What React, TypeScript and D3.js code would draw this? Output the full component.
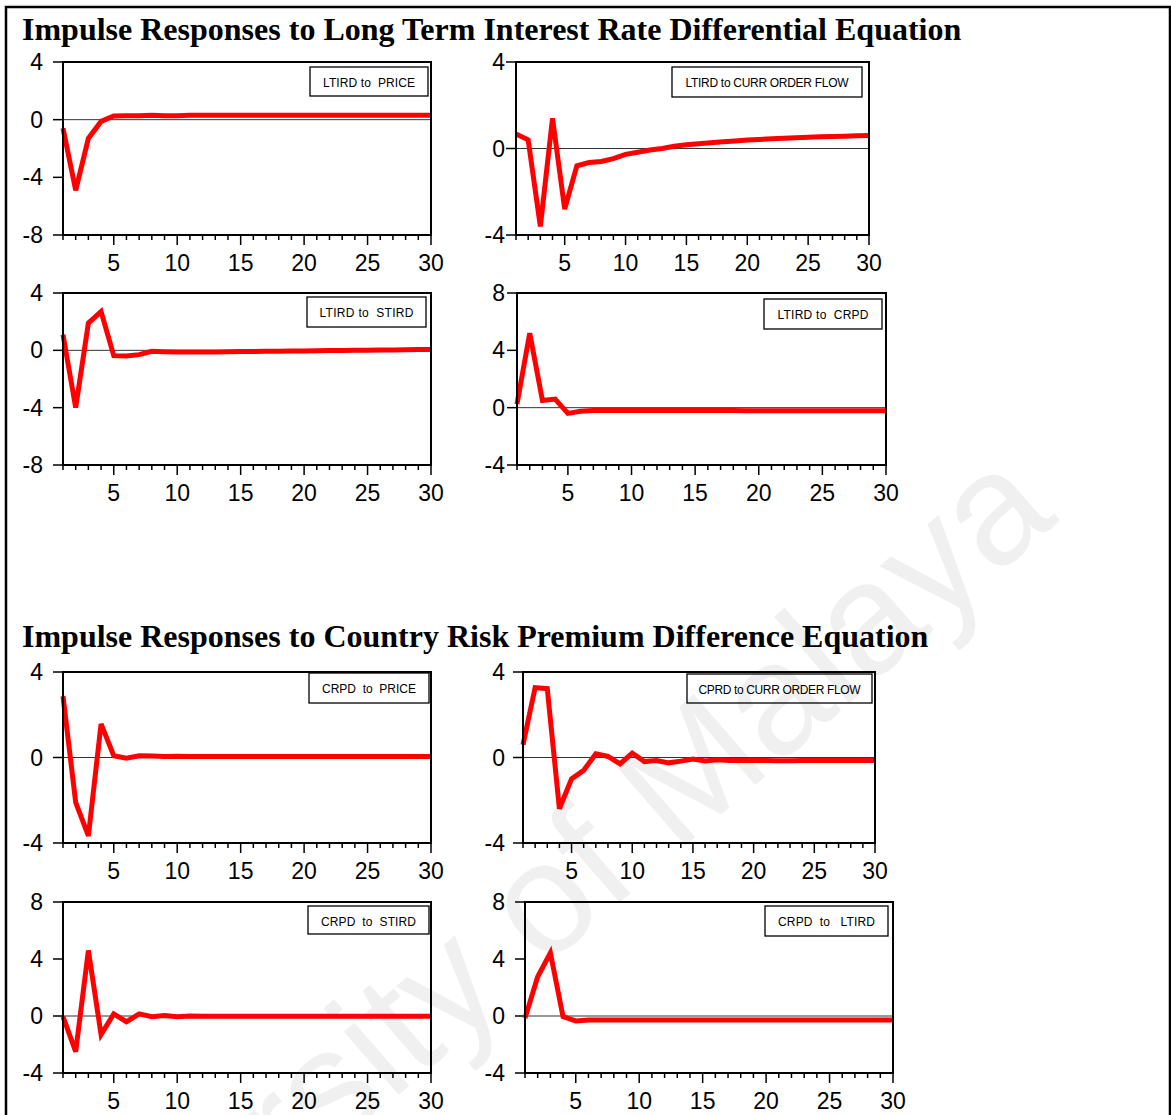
import React from "react";
import * as d3 from "d3";

// Horizon (periods after the shock)
const periods = d3.range(1, 31);
const xTickLabels = [5, 10, 15, 20, 25, 30];

const titleLong = "Impulse Responses to Long Term Interest Rate Differential Equation";
const titleCountry = "Impulse Responses to Country Risk Premium Difference Equation";

// Legend captions
const legendLabels = [
  "LTIRD to  PRICE",
  "LTIRD to CURR ORDER FLOW",
  "LTIRD to  STIRD",
  "LTIRD to  CRPD",
  "CRPD  to  PRICE",
  "CPRD to CURR ORDER FLOW",
  "CRPD  to  STIRD",
  "CRPD  to   LTIRD",
];

// Y-axis ranges for each panel
const yDomains: [number, number][] = [
  [-8, 4],
  [-4, 4],
  [-8, 4],
  [-4, 8],
  [-4, 4],
  [-4, 4],
  [-4, 8],
  [-4, 8],
];

// Impulse responses, periods 1..30
const ltirdPrice = [
  -0.6, -4.9, -1.3, -0.12, 0.25, 0.28, 0.28, 0.3, 0.28, 0.28,
  0.3, 0.3, 0.3, 0.3, 0.3, 0.3, 0.3, 0.3, 0.3, 0.3,
  0.3, 0.3, 0.3, 0.3, 0.3, 0.3, 0.3, 0.3, 0.3, 0.3,
];
const ltirdCurrOrderFlow = [
  0.67, 0.4, -3.6, 1.4, -2.8, -0.8, -0.65, -0.6, -0.47, -0.27,
  -0.17, -0.07, 0.0, 0.1, 0.17, 0.22, 0.27, 0.31, 0.35, 0.39,
  0.42, 0.45, 0.47, 0.5, 0.52, 0.54, 0.56, 0.57, 0.59, 0.6,
];
const ltirdStird = [
  1.1, -4.0, 1.9, 2.7, -0.37, -0.4, -0.3, -0.07, -0.1, -0.12,
  -0.12, -0.12, -0.11, -0.1, -0.09, -0.08, -0.07, -0.06, -0.05, -0.04,
  -0.03, -0.02, -0.01, 0.0, 0.01, 0.02, 0.03, 0.04, 0.05, 0.06,
];
const ltirdCrpd = [
  0.25, 5.2, 0.5, 0.6, -0.4, -0.25, -0.2, -0.2, -0.2, -0.2,
  -0.2, -0.2, -0.2, -0.2, -0.2, -0.2, -0.2, -0.2, -0.22, -0.22,
  -0.22, -0.22, -0.22, -0.22, -0.22, -0.22, -0.22, -0.22, -0.22, -0.22,
];
const crpdPrice = [
  2.87, -2.1, -3.67, 1.57, 0.08, -0.03, 0.08, 0.07, 0.05, 0.06,
  0.05, 0.05, 0.05, 0.05, 0.05, 0.05, 0.05, 0.05, 0.05, 0.05,
  0.05, 0.05, 0.05, 0.05, 0.05, 0.05, 0.05, 0.05, 0.05, 0.05,
];
const crpdCurrOrderFlow = [
  0.6, 3.27, 3.22, -2.4, -1.0, -0.6, 0.17, 0.05, -0.3, 0.2,
  -0.19, -0.14, -0.25, -0.17, -0.07, -0.16, -0.11, -0.14, -0.14, -0.13,
  -0.14, -0.15, -0.15, -0.14, -0.14, -0.14, -0.14, -0.14, -0.14, -0.14,
];
const crpdStird = [
  -0.05, -2.5, 4.6, -1.3, 0.15, -0.4, 0.15, -0.05, 0.03, -0.05,
  0.0, -0.02, -0.02, -0.02, -0.02, -0.02, -0.02, -0.02, -0.02, -0.02,
  -0.02, -0.02, -0.02, -0.02, -0.02, -0.02, -0.02, -0.02, -0.02, -0.02,
];
const crpdLtird = [
  -0.15, 2.75, 4.43, -0.05, -0.35, -0.28, -0.28, -0.28, -0.28, -0.28,
  -0.28, -0.28, -0.28, -0.28, -0.28, -0.28, -0.28, -0.28, -0.28, -0.28,
  -0.28, -0.28, -0.28, -0.28, -0.28, -0.28, -0.28, -0.28, -0.28, -0.28,
];

const seriesList = [
  ltirdPrice,
  ltirdCurrOrderFlow,
  ltirdStird,
  ltirdCrpd,
  crpdPrice,
  crpdCurrOrderFlow,
  crpdStird,
  crpdLtird,
];

// Panel geometry: plot rectangle, y-label anchor, legend box and caption width
const layout = [
  { x0: 63, x1: 431, y0: 62, y1: 235, labelX: 43, box: [310, 67, 118, 29], textW: 92 },
  { x0: 516, x1: 869, y0: 62, y1: 235, labelX: 505, box: [672, 67, 190, 30], textW: 163 },
  { x0: 63, x1: 431, y0: 293, y1: 465, labelX: 43, box: [307, 297, 119, 30], textW: 94 },
  { x0: 517, x1: 886, y0: 293, y1: 465, labelX: 505, box: [764, 299, 118, 30], textW: 91 },
  { x0: 63, x1: 431, y0: 672, y1: 843, labelX: 43, box: [309, 673, 120, 30], textW: 94 },
  { x0: 523, x1: 875, y0: 672, y1: 843, labelX: 505, box: [687, 674, 185, 29], textW: 162 },
  { x0: 63, x1: 431, y0: 902, y1: 1073, labelX: 43, box: [308, 906, 121, 28], textW: 95 },
  { x0: 525, x1: 893, y0: 902, y1: 1073, labelX: 505, box: [765, 906, 123, 30], textW: 97 },
];

const SANS = "'Liberation Sans', Arial, Helvetica, sans-serif";
const SERIF = "'Liberation Serif', 'Times New Roman', serif";

function Panel({ idx }: { idx: number }) {
  const g = layout[idx];
  const values = seriesList[idx];
  const domain = yDomains[idx];
  const x = d3.scaleLinear().domain([1, 30]).range([g.x0, g.x1]);
  const y = d3.scaleLinear().domain(domain).range([g.y1, g.y0]);
  const yTicks = d3.range(domain[0], domain[1] + 0.001, 4);
  const path = d3
    .line<number>()
    .x((_, i) => x(periods[i]))
    .y((d) => y(d))(values) as string;
  const [bx, by, bw, bh] = g.box;

  return (
    <g>
      {/* zero reference line */}
      <line x1={g.x0} x2={g.x1} y1={y(0)} y2={y(0)} stroke="#333" strokeWidth={1} />
      {/* y ticks and labels */}
      {yTicks.map((t) => (
        <g key={`y${t}`}>
          <line x1={g.x0 - 10} x2={g.x0} y1={y(t)} y2={y(t)} stroke="#000" strokeWidth={1.5} />
          <text
            x={g.labelX}
            y={y(t)}
            dy="0.35em"
            textAnchor="end"
            fontFamily={SANS}
            fontSize={23}
            fill="#000"
          >
            {t}
          </text>
        </g>
      ))}
      {/* x ticks: every period, longer at multiples of five */}
      {periods.map((p) => (
        <line
          key={`x${p}`}
          x1={x(p)}
          x2={x(p)}
          y1={g.y1}
          y2={g.y1 + (p % 5 === 0 ? 10 : 5)}
          stroke="#000"
          strokeWidth={1.5}
        />
      ))}
      {xTickLabels.map((p) => (
        <text
          key={`xl${p}`}
          x={x(p)}
          y={g.y1 + 36}
          textAnchor="middle"
          fontFamily={SANS}
          fontSize={23}
          fill="#000"
        >
          {p}
        </text>
      ))}
      {/* response */}
      <path d={path} fill="none" stroke="#ff0000" strokeWidth={5} strokeLinejoin="miter" />
      {/* plot frame */}
      <rect
        x={g.x0}
        y={g.y0}
        width={g.x1 - g.x0}
        height={g.y1 - g.y0}
        fill="none"
        stroke="#000"
        strokeWidth={2}
      />
      {/* legend */}
      <rect x={bx} y={by} width={bw} height={bh} fill="none" stroke="#000" strokeWidth={1.3} />
      <text
        x={bx + bw / 2}
        y={by + 19.5}
        textAnchor="middle"
        fontFamily={SANS}
        fontSize={12}
        fill="#000"
        textLength={g.textW}
        style={{ whiteSpace: "pre" }}
      >
        {legendLabels[idx]}
      </text>
    </g>
  );
}

export default function App() {
  return (
    <svg
      width={1171}
      height={1115}
      viewBox="0 0 1171 1115"
      style={{ position: "absolute", left: 0, top: 0, display: "block", background: "#fff" }}
    >
      <rect x={0} y={0} width={1171} height={1115} fill="#fff" />
      {/* institutional watermark */}
      <text
        transform="translate(1060,520) rotate(-41)"
        textAnchor="end"
        fontFamily={SANS}
        fontSize={158}
        fill="#f0f0f0"
      >
        University of Malaya
      </text>
      {/* page frame */}
      <rect x={6} y={7} width={1164} height={1200} fill="none" stroke="#000" strokeWidth={2.5} />
      <text x={22} y={40} fontFamily={SERIF} fontWeight="bold" fontSize={32} fill="#000">
        {titleLong}
      </text>
      <text x={22} y={647} fontFamily={SERIF} fontWeight="bold" fontSize={32} fill="#000">
        {titleCountry}
      </text>
      {layout.map((_, i) => (
        <Panel key={i} idx={i} />
      ))}
    </svg>
  );
}
